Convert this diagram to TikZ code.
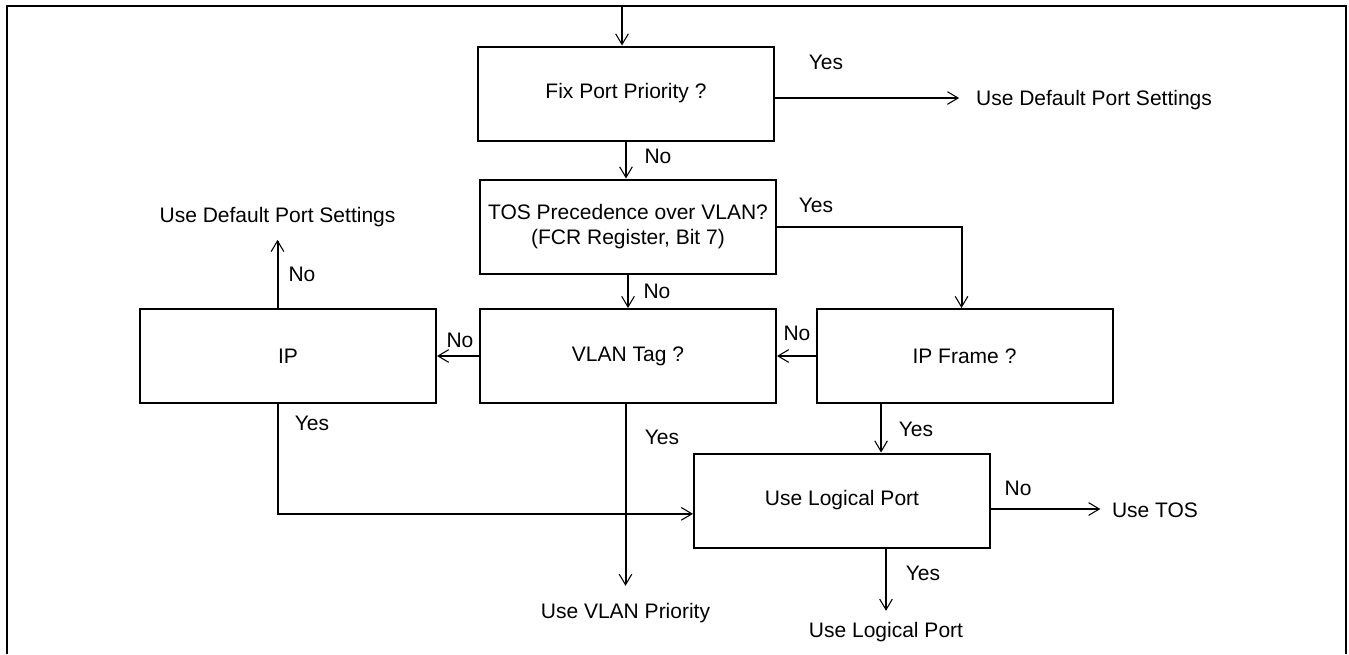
\documentclass[tikz,border=0pt]{standalone}
\usepackage{fontspec}
\setmainfont{Liberation Sans}
\usetikzlibrary{calc,arrows.meta}

\begin{document}
\begin{tikzpicture}[x=0.75pt, y=-0.75pt, line width=1.5pt,
    font=\fontsize{15.75}{18.75}\selectfont,
    box/.style={rectangle, draw, minimum width=222pt, minimum height=70.5pt, align=center},
    lbl/.style={inner sep=0pt},
    res/.style={inner sep=0pt, anchor=base},
    >={Straight Barb[length=8pt,width=9.5pt,line width=0.8pt]}]
    \useasboundingbox (0,0) rectangle (1349,654);
    \draw (6.5,654) -- (6.5,6) -- (1345.5,6) -- (1345.5,654);
    \coordinate (start) at (622,6);
    \node[box] (fix) at (626,93.5) {Fix Port Priority ?};
    \node[box] (tos) at (628,226.5) {TOS Precedence over VLAN?\\(FCR Register, Bit 7)};
    \node[box] (vlan) at (628,356) {VLAN Tag ?};
    \node[box] (ipf) at (964.5,356) {IP Frame ?};
    \node[box] (ip) at (288,356) {IP};
    \node[box] (ulp) at (842,500.5) {Use Logical Port};
    \node[res] (defr) at (1094,105) {Use Default Port Settings};
    \node[res] (defl) at (277.5,222.5) {Use Default Port Settings};
    \node[res] (vprio) at (625.5,618) {Use VLAN Priority};
    \node[res] (usetos) at (1155,517) {Use TOS};
    \node[res] (lport) at (886,637) {Use Logical Port};
    \node[lbl] (yes1) at (826,62) {Yes};
    \node[lbl] (no1) at (658,156) {No};
    \node[lbl] (yes2) at (816,205) {Yes};
    \node[lbl] (no2) at (657,291) {No};
    \node[lbl] (no3) at (797,333) {No};
    \node[lbl] (no4) at (460,340) {No};
    \node[lbl] (no5) at (302,274) {No};
    \node[lbl] (yes3) at (312,423) {Yes};
    \node[lbl] (yes4) at (662,437) {Yes};
    \node[lbl] (yes5) at (916,429) {Yes};
    \node[lbl] (no6) at (1018,488) {No};
    \node[lbl] (yes6) at (923,573) {Yes};
    \draw[->] (start) -- (start |- fix.north);
    \draw[->,shorten >=12pt] (fix.east |- 0,98) -- (defr.west |- 0,98);
    \draw[->] (fix.south) -- (fix.south |- tos.north);
    \draw[->] (tos.east) -| ($(ipf.north west)!0.49!(ipf.north east)$);
    \draw[->] (tos.south) -- (vlan.north);
    \draw[->] (ipf.west) -- (vlan.east);
    \draw[->] (vlan.west) -- (ip.east);
    \draw[->,shorten >=9pt] (defl |- ip.north) -- (defl.south);
    \draw[->] (defl |- ip.south) |- ([yshift=-10pt]ulp.west);
    \draw[->,shorten >=12pt] (vprio |- vlan.south) -- (vprio.north);
    \draw[->] ($(ipf.south west)!0.22!(ipf.south east)$) coordinate (ipfy) -- (ipfy |- ulp.north);
    \draw[->,shorten >=8pt] (ulp.east |- 0,509) -- (usetos.west |- 0,509);
    \draw[->,shorten >=7.5pt] (lport.north |- ulp.south) -- (lport.north);
\end{tikzpicture}
\end{document}
